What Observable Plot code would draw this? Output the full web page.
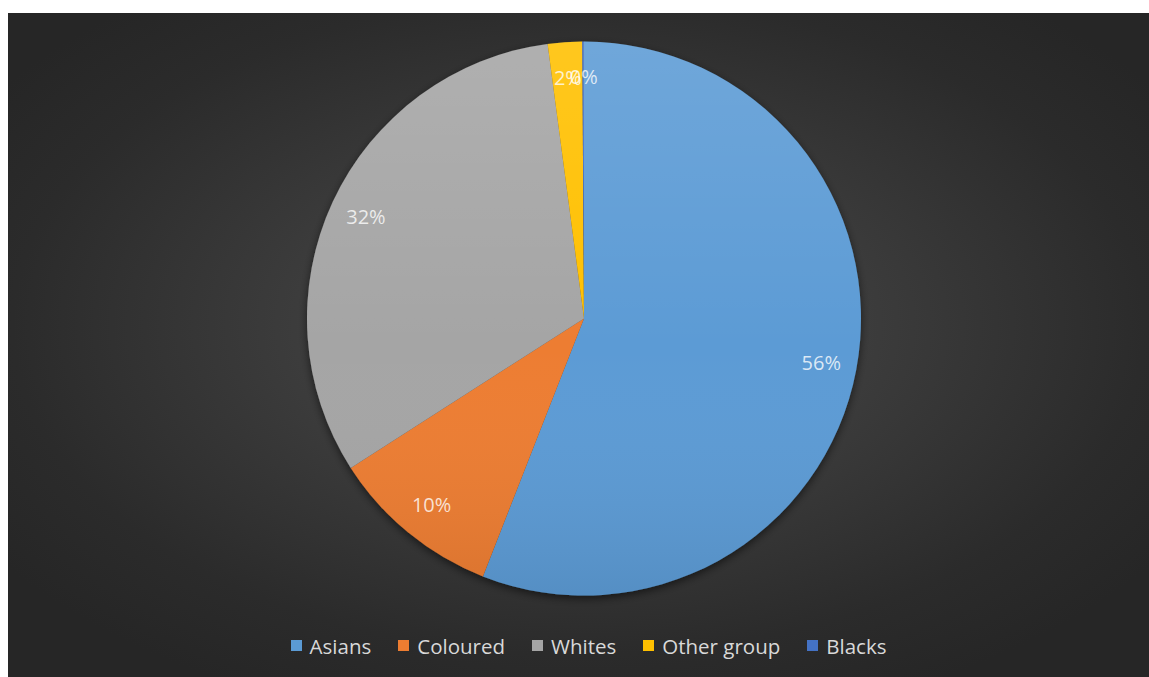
<!DOCTYPE html>
<html>
<head>
<meta charset="utf-8">
<script src="https://cdn.jsdelivr.net/npm/d3@7"></script>
<script src="https://cdn.jsdelivr.net/npm/@observablehq/plot@0.6"></script>
<style>
  html, body { margin: 0; padding: 0; background: #ffffff; }
  #panel {
    position: absolute; left: 8px; top: 13px; width: 1141px; height: 664px;
    background: radial-gradient(ellipse 62% 62% at 50% 47%, #4d4d4d 0%, #3a3a3a 45%, #2b2b2b 80%, #262626 100%);
    overflow: hidden;
  }
  #chart svg { display: block; background: transparent !important; }
  #legend { position: absolute; left: 20px; top: 616px; width: 1121px; }
  .lg-swatches, .lg-swatches-wrap {
    font-family: "Open Sans", sans-serif !important;
    font-size: 20.5px !important;
    color: #d9d9d9 !important;
    justify-content: center !important;
    margin: 0 !important;
  }
  .lg-swatch { margin-right: 27px !important; }
  .lg-swatch:last-child { margin-right: 0 !important; }
  .lg-swatch > svg { margin-right: 8px !important; }
</style>
</head>
<body>
<div id="panel">
  <div id="chart"></div>
  <div id="legend"></div>
</div>
<script>
const categories = ["Asians", "Coloured", "Whites", "Other group", "Blacks"];
const values = [56, 10, 32, 2, 0.1];
const colors = ["#5B9BD5", "#ED7D31", "#A5A5A5", "#FFC000", "#4472C4"];

const data = categories.map((c, i) => ({category: c, value: values[i]}));
const total = d3.sum(values);
const arcs = d3.pie().sort(null).value(d => d.value)(data);
const labelR = 0.87;
const labels = arcs.map(a => {
  const m = (a.startAngle + a.endAngle) / 2;
  return {
    x: labelR * Math.sin(m),
    y: labelR * Math.cos(m),
    text: Math.round(a.data.value / total * 100) + "%"
  };
});

const color = Plot.scale({color: {type: "ordinal", domain: categories, range: colors}});

const cx = 576, cy = 305.5, R = 277;

function pieMark(index, scales, values, dimensions) {
  const x0 = scales.x(0), y0 = scales.y(0);
  const r = Math.abs(scales.x(1) - scales.x(0));
  const g = d3.create("svg:g");
  const defs = g.append("defs");
  const f = defs.append("filter").attr("id", "pieShadow")
    .attr("x", "-20%").attr("y", "-20%").attr("width", "140%").attr("height", "140%");
  f.append("feDropShadow").attr("dx", 0).attr("dy", 3).attr("stdDeviation", 4)
    .attr("flood-color", "#000").attr("flood-opacity", 0.55);
  const lg = defs.append("linearGradient").attr("id", "pieShade")
    .attr("x1", 0).attr("y1", 0).attr("x2", 0).attr("y2", 1);
  lg.append("stop").attr("offset", "0%").attr("stop-color", "#fff").attr("stop-opacity", 0.12);
  lg.append("stop").attr("offset", "55%").attr("stop-color", "#fff").attr("stop-opacity", 0.0);
  lg.append("stop").attr("offset", "100%").attr("stop-color", "#000").attr("stop-opacity", 0.08);
  const arcGen = d3.arc().innerRadius(0).outerRadius(r);
  const pg = g.append("g").attr("transform", `translate(${x0},${y0})`).attr("filter", "url(#pieShadow)");
  pg.selectAll("path").data(arcs).join("path")
    .attr("d", arcGen)
    .attr("fill", d => color.apply(d.data.category));
  g.append("circle").attr("cx", x0).attr("cy", y0).attr("r", r)
    .attr("fill", "url(#pieShade)").attr("pointer-events", "none");
  return g.node();
}

const plot = Plot.plot({
  width: 1141,
  height: 616,
  margin: 0,
  style: {background: "transparent"},
  x: {domain: [-1, 1], range: [cx - R, cx + R], axis: null},
  y: {domain: [-1, 1], range: [cy + R, cy - R], axis: null},
  marks: [
    pieMark,
    Plot.text(labels, {
      x: "x", y: "y", text: "text",
      fill: "#ffffff", fillOpacity: 0.78,
      fontSize: 20, fontFamily: "Open Sans"
    })
  ]
});
document.getElementById("chart").appendChild(plot);

const legend = Plot.legend({
  color: {type: "ordinal", domain: categories, range: colors},
  legend: "swatches",
  swatchSize: 11,
  className: "lg"
});
document.getElementById("legend").appendChild(legend);
</script>
</body>
</html>
